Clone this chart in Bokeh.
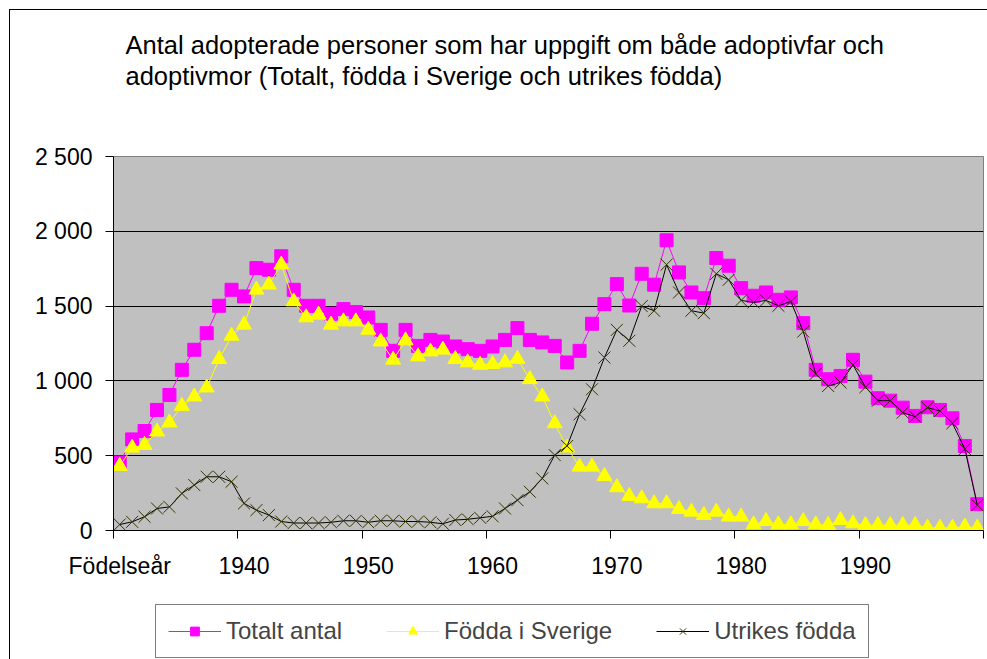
from bokeh.plotting import figure
from bokeh.layouts import column
from bokeh.models import (FixedTicker, Legend, LegendItem, ColumnDataSource, Range1d, Label)
from bokeh.embed import file_html
from bokeh.resources import INLINE

# ---------------- data ----------------
years = list(range(1930, 2000))
category_labels = ["Födelseår"] + [str(y) for y in years[1:]]

totalt = [455, 609, 665, 806, 906, 1074, 1208, 1319, 1502, 1609,
          1565, 1754, 1743, 1833, 1609, 1502, 1502, 1449, 1480, 1460,
          1424, 1341, 1201, 1341, 1234, 1274, 1263, 1230, 1212, 1201,
          1230, 1274, 1353, 1274, 1257, 1234, 1123, 1201, 1382, 1513,
          1647, 1504, 1716, 1643, 1940, 1725, 1591, 1553, 1821, 1770,
          1620, 1569, 1591, 1542, 1558, 1386, 1074, 1011, 1033, 1141,
          995, 884, 868, 821, 766, 824, 806, 750, 565, 176]

sverige = [431, 553, 571, 661, 721, 832, 895, 955, 1145, 1301,
           1375, 1609, 1643, 1777, 1531, 1424, 1442, 1375, 1397, 1397,
           1341, 1263, 1141, 1270, 1163, 1196, 1208, 1145, 1123, 1107,
           1112, 1123, 1147, 1011, 895, 716, 554, 426, 426, 364,
           288, 230, 214, 181, 181, 143, 125, 103, 125, 92,
           92, 40, 62, 40, 40, 62, 40, 36, 69, 47,
           36, 36, 36, 36, 36, 18, 18, 18, 25, 18]

utrikes = [40, 58, 92, 147, 158, 248, 304, 359, 359, 326,
           181, 136, 103, 60, 50, 50, 50, 55, 65, 65,
           55, 65, 65, 60, 60, 55, 45, 70, 75, 85,
           95, 147, 203, 259, 348, 504, 565, 777, 944, 1156,
           1341, 1268, 1500, 1469, 1777, 1591, 1469, 1453, 1716, 1676,
           1538, 1525, 1538, 1502, 1531, 1330, 1047, 966, 989, 1107,
           958, 868, 868, 788, 761, 821, 799, 717, 545, 170]

y_ticks = [0, 500, 1000, 1500, 2000, 2500]
y_tick_labels = ["0", "500", "1 000", "1 500", "2 000", "2 500"]
x_label_every = 10

series_names = ["Totalt antal", "Födda i Sverige", "Utrikes födda"]
title_lines = ["Antal adopterade personer som har uppgift om både adoptivfar och",
               "adoptivmor (Totalt, födda i Sverige och utrikes födda)"]

colors = ["#FF00FF", "#FFFF00", "#000000"]
marker_color_x = "#333300"

# ---------------- layout ----------------
FONT = "Liberation Sans"
W = 977
FL, FR = 103, 973                 # frame left / right (canvas px)
H_TITLE, H_MAIN, H_LEG = 110, 480, 59
FT, FB = 36, 410                   # frame top / bottom inside the main figure
n = len(years)
idx = list(range(n))

src = ColumnDataSource(dict(x=idx, totalt=totalt, sverige=sverige, utrikes=utrikes))


def strip(height, x_range, y_range):
    f = figure(width=W, height=height, output_backend="svg", toolbar_location=None,
               x_range=x_range, y_range=y_range, x_axis_type=None, y_axis_type=None,
               min_border_left=FL, min_border_right=W - FR,
               min_border_top=0, min_border_bottom=0)
    f.grid.grid_line_color = None
    f.outline_line_color = None
    f.background_fill_color = "white"
    f.border_fill_color = "white"
    return f


# ---------------- title strip (pixel coordinates, y downward) ----------------
t = strip(H_TITLE, Range1d(FL, FR), Range1d(H_TITLE, 0))
for txt, base in zip(title_lines, [34, 65]):
    t.add_layout(Label(x=115, y=base, text=txt, text_font=FONT, text_font_size="25.5px",
                       text_color="black", text_baseline="alphabetic", text_align="left"))

# ---------------- main chart ----------------
p = figure(width=W, height=H_MAIN, output_backend="svg", toolbar_location=None,
           x_range=Range1d(-0.5, n - 0.5), y_range=Range1d(0, 2500),
           min_border_left=FL, min_border_right=W - FR,
           min_border_top=FT, min_border_bottom=H_MAIN - FB)
p.background_fill_color = "#C0C0C0"
p.border_fill_color = "white"
p.outline_line_color = "#808080"
p.outline_line_width = 1

# y axis
p.yaxis.ticker = FixedTicker(ticks=y_ticks, minor_ticks=[])
p.yaxis.major_label_overrides = {t_: l for t_, l in zip(y_ticks, y_tick_labels)}
p.yaxis.major_tick_out = 8
p.yaxis.major_tick_in = 0
p.yaxis.minor_tick_out = 0
p.yaxis.minor_tick_in = 0
p.yaxis.major_label_standoff = 13
p.yaxis.axis_line_color = "black"
p.yaxis.major_tick_line_color = "black"
p.yaxis.major_label_text_font = FONT
p.yaxis.major_label_text_font_size = "23px"
p.yaxis.major_label_text_color = "black"

# x axis: labels at every 10th category centre, tick marks on category boundaries
lab_pos = idx[::x_label_every]
bounds = [i - 0.5 for i in idx[::x_label_every]] + [n - 0.5]
p.xaxis.ticker = FixedTicker(ticks=lab_pos, minor_ticks=bounds)
p.xaxis.major_label_overrides = {i: category_labels[i] for i in lab_pos}
p.xaxis.major_tick_out = 0
p.xaxis.major_tick_in = 0
p.xaxis.minor_tick_out = 8
p.xaxis.minor_tick_in = 0
p.xaxis.minor_tick_line_color = "black"
p.xaxis.major_label_standoff = 14
p.xaxis.axis_line_color = "black"
p.xaxis.major_label_text_font = FONT
p.xaxis.major_label_text_font_size = "23px"
p.xaxis.major_label_text_color = "black"

# grid
p.xgrid.grid_line_color = None
p.ygrid.ticker = FixedTicker(ticks=y_ticks[1:-1])
p.ygrid.grid_line_color = "black"
p.ygrid.grid_line_width = 1


def add_series(fig, col, k):
    ln = fig.line("x", col, source=src, line_color=colors[k], line_width=1)
    if k == 0:
        mk = fig.scatter("x", col, source=src, marker="square", size=13,
                         fill_color=colors[k], line_color=colors[k])
    elif k == 1:
        mk = fig.scatter("x", col, source=src, marker="triangle", size=15,
                         fill_color=colors[k], line_color=colors[k])
    else:
        mk = fig.scatter("x", col, source=src, marker="x", size=17,
                         line_color=marker_color_x, line_width=1)
    return ln, mk


for k, col in enumerate(["totalt", "sverige", "utrikes"]):
    add_series(p, col, k)

# ---------------- legend strip (same series, kept out of view) ----------------
q = strip(H_LEG, Range1d(-0.5, n - 0.5), Range1d(-20000, -10000))
items = []
for k, col in enumerate(["totalt", "sverige", "utrikes"]):
    ln, mk = add_series(q, col, k)
    items.append(LegendItem(label=series_names[k], renderers=[ln, mk]))

legend = Legend(items=items, orientation="horizontal", location=(42, 1))
legend.label_text_font = FONT
legend.label_text_font_size = "24px"
legend.glyph_width = 53
legend.glyph_height = 22
legend.label_standoff = 5
legend.spacing = 44
legend.padding = 12
legend.margin = 0
legend.border_line_color = "black"
legend.border_line_width = 1
legend.background_fill_color = "white"
legend.background_fill_alpha = 1
q.add_layout(legend)

page = column(t, p, q, spacing=0,
              styles={"margin-left": "9px", "margin-top": "9px",
                      "border-left": "1px solid black", "border-top": "1px solid black"})

open("out.html", "w").write(file_html(page, INLINE))
